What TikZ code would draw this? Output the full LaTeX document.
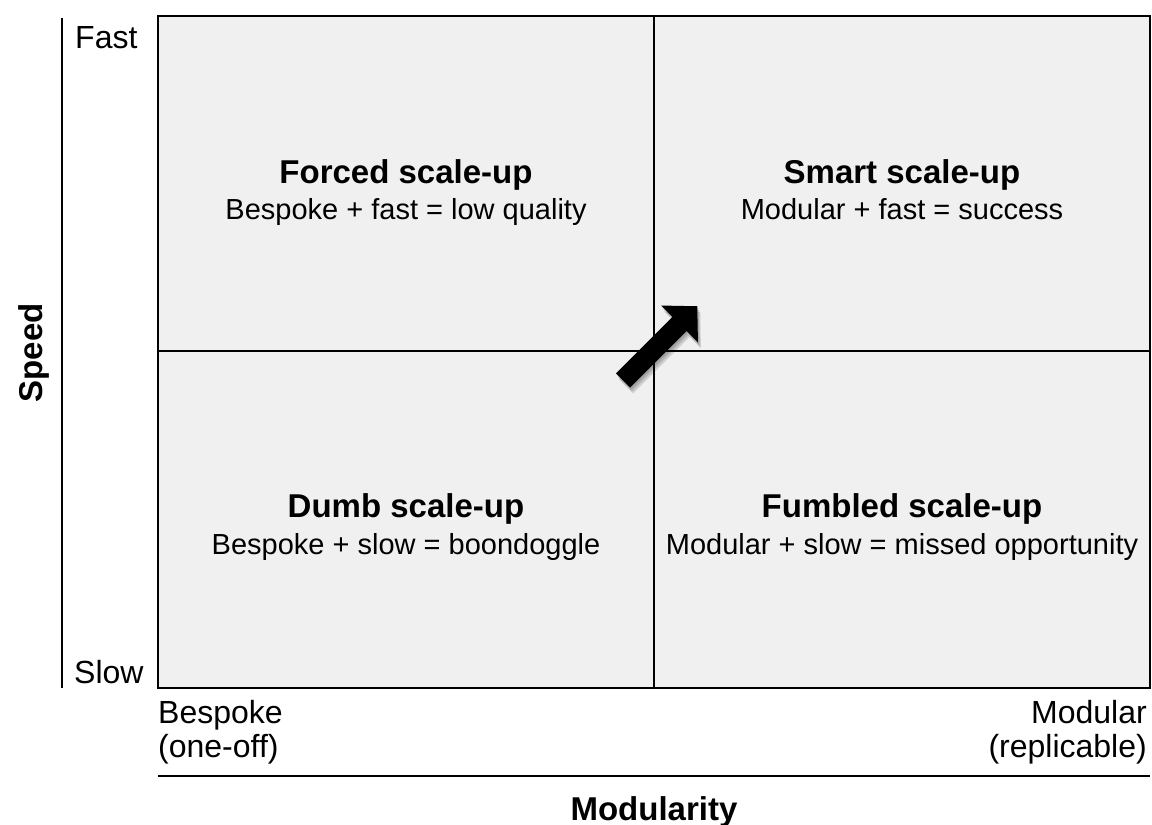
\documentclass[tikz,border=0pt]{standalone}
\usepackage{fontspec}
\setmainfont{Liberation Sans}
\definecolor{quadfill}{HTML}{F0F0F0}
\begin{document}
\begin{tikzpicture}[x=1pt,y=-1pt,
  quad/.style={draw=black, line width=2pt, fill=quadfill},
  divider/.style={draw=black, line width=2pt},
  ttl/.style={font=\fontsize{33}{38}\selectfont\bfseries, inner sep=0pt, anchor=base},
  sub/.style={font=\fontsize{29}{34}\selectfont, inner sep=0pt, anchor=base},
  axlab/.style={font=\fontsize{32}{34}\selectfont, inner sep=0pt},
  axtitle/.style={font=\fontsize{33}{38}\selectfont\bfseries, inner sep=0pt, anchor=base},
  axline/.style={draw=black, line width=2pt},
  bigarrow/.style={fill=black},
  arrowshadow/.style={fill=black, opacity=0.13}
]
\useasboundingbox (0,0) rectangle (1152,825);
% grid
\coordinate (boxtl) at (158,16);
\coordinate (boxbr) at (1150,688);
\coordinate (midtop) at (654,16);
\coordinate (midbot) at (654,688);
\coordinate (midleft) at (158,351);
\coordinate (midright) at (1150,351);
\draw[quad] (boxtl) rectangle (boxbr);
\draw[divider] (midtop) -- (midbot);
\draw[divider] (midleft) -- (midright);
% quadrant labels
\node[ttl] (t1) at (406,183) {Forced scale-up};
\node[sub] (s1) at (406,219) {Bespoke + fast = low quality};
\node[ttl] (t2) at (902,183) {Smart scale-up};
\node[sub] (s2) at (902,219) {Modular + fast = success};
\node[ttl] (t3) at (406,517) {Dumb scale-up};
\node[sub] (s3) at (406,554) {Bespoke + slow = boondoggle};
\node[ttl] (t4) at (902,517) {Fumbled scale-up};
\node[sub] (s4) at (902,554) {Modular + slow = missed opportunity};
% arrow shadow
\foreach \dx/\dy in {1/2,2/4,3/6}{
  \begin{scope}[shift={(623+\dx,380.5+\dy)}, rotate=45]
    \fill[arrowshadow] (0,-10) -- (80,-10) -- (80,-26) -- (105,0) -- (80,26) -- (80,10) -- (0,10) -- cycle;
  \end{scope}
}
% arrow
\coordinate (atail) at (623,380.5);
\begin{scope}[shift={(atail)}, rotate=45]
  \fill[bigarrow] (0,-10) -- (80,-10) -- (80,-26) -- (105,0) -- (80,26) -- (80,10) -- (0,10) -- cycle;
\end{scope}
% vertical axis
\coordinate (vtop) at (62,18);
\coordinate (vbot) at (62,688);
\draw[axline] (vtop) -- (vbot);
\node[axlab, anchor=base west] (fast) at (75,48) {Fast};
\node[axlab, anchor=base west] (slow) at (74,683) {Slow};
\node[axtitle, rotate=90] (speed) at (42,353) {Speed};
% horizontal axis
\coordinate (hleft) at (158,776);
\coordinate (hright) at (1150,776);
\draw[axline] (hleft) -- (hright);
\node[axlab, anchor=base west, align=left] (bespoke) at (158,757) {Bespoke\\(one-off)};
\node[axlab, anchor=base east, align=right] (modular) at (1147,757) {Modular\\(replicable)};
\node[axtitle] (modularity) at (654,820) {Modularity};
\end{tikzpicture}
\end{document}
